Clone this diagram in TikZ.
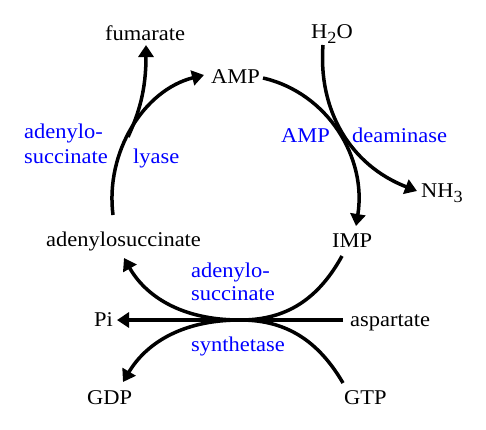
\documentclass[tikz,border=0pt]{standalone}
\usepackage{fontspec}
\setmainfont[FakeStretch=1.07]{Liberation Serif}
\usetikzlibrary{arrows.meta}
\begin{document}
\begin{tikzpicture}[x=1pt,y=-1pt,
  lbl/.style={anchor=base west, inner sep=0pt, font=\fontsize{21}{24}\selectfont},
  enz/.style={lbl, text=blue},
  flow/.style={line width=3.5pt, -{Triangle[length=12pt,width=15pt]}}]
\useasboundingbox (0,0) rectangle (486,429);
% labels
\node[lbl] (fum) at (105,40) {fumarate};
\node[lbl] (amp) at (211,83) {AMP};
\node[lbl] (h2o) at (311,38) {H\raisebox{-5pt}{\fontsize{17}{17}\selectfont 2}O};
\node[enz] (ly1) at (24,138) {adenylo-};
\node[enz] (ly2) at (24,163) {succinate};
\node[enz] (ly3) at (133,163) {lyase};
\node[enz] (de1) at (281,142) {AMP};
\node[enz] (de2) at (352,142) {deaminase};
\node[lbl] (nh3) at (421,197) {NH\raisebox{-5pt}{\fontsize{17}{17}\selectfont 3}};
\node[lbl] (ads) at (46,246) {adenylosuccinate};
\node[lbl] (imp) at (332,247) {IMP};
\node[enz] (sy1) at (191,277) {adenylo-};
\node[enz] (sy2) at (191,300) {succinate};
\node[enz] (sy3) at (191,351) {synthetase};
\node[lbl] (pi) at (94,326) {Pi};
\node[lbl] (asp) at (350,326) {aspartate};
\node[lbl] (gdp) at (87,404) {GDP};
\node[lbl] (gtp) at (344,404) {GTP};
% end points
\coordinate (ly0) at (113,215);
\coordinate (ampL) at (204,75);
\coordinate (fb) at (128,137);
\coordinate (fumB) at (146,45);
\coordinate (ampR) at (263,78);
\coordinate (impT) at (356,226);
\coordinate (h2oB) at (323,45);
\coordinate (nh3L) at (417,191);
\coordinate (impB) at (342,256);
\coordinate (J) at (240,320);
\coordinate (adsB) at (124,258);
\coordinate (gtp0) at (343,383);
\coordinate (gdpT) at (123,382);
\coordinate (aspL) at (343,320);
\coordinate (piR) at (117,320);
% connectors
\draw[flow] (ly0) .. controls (105,152) and (144,90) .. (ampL);
\draw[flow] (fb) .. controls (139,113) and (146,90) .. (fumB);
\draw[flow] (ampR) .. controls (328,93) and (367,158) .. (impT);
\draw[flow] (h2oB) .. controls (318,110) and (350,165) .. (nh3L);
\draw[flow] (impB) .. controls (315,305) and (280,320) .. (J) .. controls (180,320) and (145,295) .. (adsB);
\draw[flow] (gtp0) .. controls (315,335) and (280,320) .. (J) .. controls (180,320) and (145,345) .. (gdpT);
\draw[flow] (aspL) -- (piR);
\end{tikzpicture}
\end{document}
